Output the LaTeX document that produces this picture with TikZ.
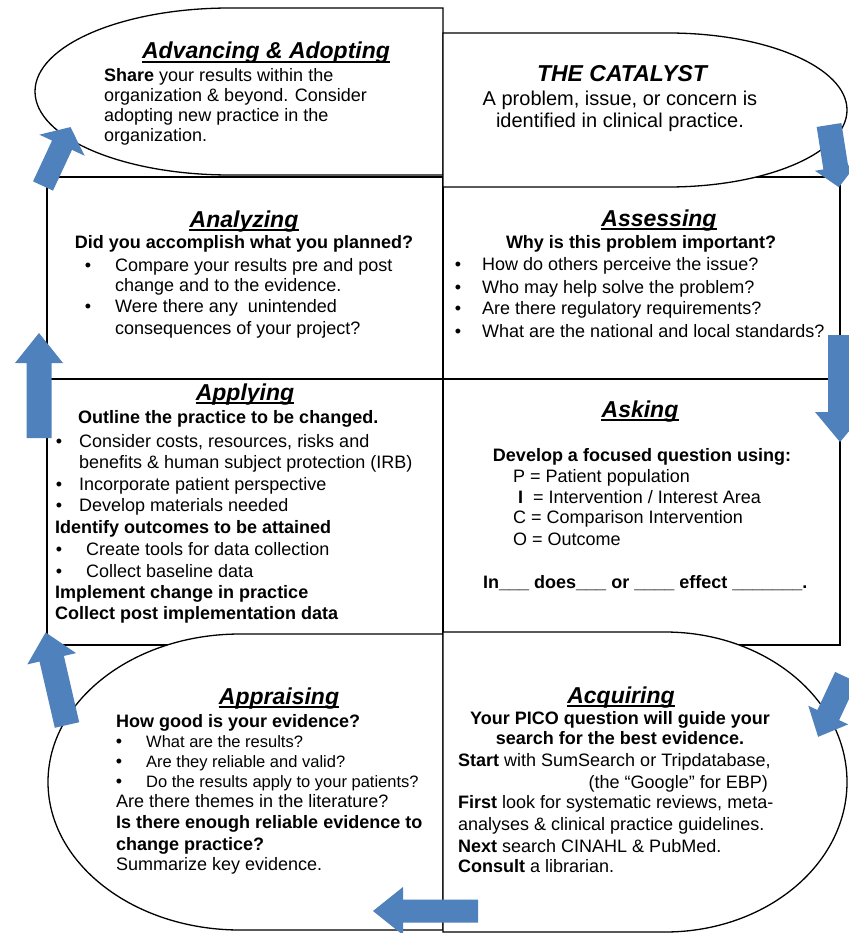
\documentclass[tikz,border=0pt]{standalone}
\usepackage{fontspec}
\setmainfont{Liberation Sans}
\definecolor{arrowblue}{RGB}{79,129,189}
\tikzset{
  tb/.style={inner sep=0pt, anchor=base west, font=\fontsize{18}{21}\selectfont},
  tbb/.style={inner sep=0pt, anchor=base west, font=\fontsize{18}{21}\selectfont\bfseries},
  tbbc/.style={tbb, anchor=base},
  tsm/.style={inner sep=0pt, anchor=base west, font=\fontsize{16.5}{19}\selectfont},
  tcat/.style={inner sep=0pt, anchor=base, font=\fontsize{20}{22}\selectfont},
  ttl/.style={inner sep=0pt, anchor=base, font=\fontsize{23}{26}\selectfont\bfseries\itshape},
  bul/.style={inner sep=0pt, anchor=base, font=\fontsize{18}{21}\selectfont},
  gridbox/.style={draw=black, line width=2pt},
  lobe/.style={draw=black, fill=white, line width=1.3pt},
  ulline/.style={line width=1.8pt},
}
\newcommand\ulin[1]{\draw[ulline] ([yshift=-3pt]#1.base west) -- ([yshift=-3pt]#1.base east);}
\newcommand\barrow[7]{\fill[arrowblue, shift={(#1,#2)}, rotate=#3] (0,-#5) -- (#4-#7,-#5) -- (#4-#7,-#6) -- (#4,0) -- (#4-#7,#6) -- (#4-#7,#5) -- (0,#5) -- cycle;}
\begin{document}
\begin{tikzpicture}[x=1pt,y=-1pt]
\useasboundingbox (0,0) rectangle (848,933);
% grid boxes
\draw[gridbox] (47,177) rectangle (443,379);
\draw[gridbox] (443,177) rectangle (840,379);
\draw[gridbox] (47,379) rectangle (443,645);
\draw[gridbox] (443,379) rectangle (840,645);
% lobes
\draw[lobe] (443,8) -- (230,8) arc[start angle=90, end angle=270, x radius=195pt, y radius=83.5pt] -- (443,175) -- cycle;
\draw[lobe] (443,33) -- (668,33) arc[start angle=90, end angle=-90, x radius=179pt, y radius=77pt] -- (443,187) -- cycle;
\draw[lobe] (443,634) -- (240,634) arc[start angle=90, end angle=270, x radius=192pt, y radius=148pt] -- (443,930) -- cycle;
\draw[lobe] (443,632) -- (665,632) arc[start angle=90, end angle=-90, x radius=182pt, y radius=150pt] -- (443,932) -- cycle;

% Advancing & Adopting
\node[ttl] (t1) at (266,59) {Advancing \& Adopting};
\ulin{t1}
\node[tb] (a1) at (104,81.5) {\textbf{Share} your results within the};
\node[tb] (a2) at (104,101.5) {organization \& beyond. Consider};
\node[tb] (a3) at (104,121.5) {adopting new practice in the};
\node[tb] (a4) at (104,142) {organization.};

% The catalyst
\node[ttl] (t2) at (622,82) {THE CATALYST};
\node[tcat] (c1) at (620,106) {A problem, issue, or concern is};
\node[tcat] (c2) at (620,128) {identified in clinical practice.};

% Analyzing
\node[ttl] (t3) at (244,227) {Analyzing};
\ulin{t3}
\node[tbbc] (n1) at (244,248) {Did you accomplish what you planned?};
\node[bul] (nb1) at (88,271) {•};
\node[tb] (n2) at (115,271) {Compare your results pre and post};
\node[tb] (n3) at (115,291) {change and to the evidence.};
\node[bul] (nb2) at (88,312) {•};
\node[tb] (n4) at (115,312) {Were there any\ \ unintended};
\node[tb] (n5) at (115,334) {consequences of your project?};

% Assessing
\node[ttl] (t4) at (659,226) {Assessing};
\ulin{t4}
\node[tbbc] (s1) at (641,248) {Why is this problem important?};
\node[bul] (sb1) at (458,270) {•};
\node[tb] (s2) at (482,270) {How do others perceive the issue?};
\node[bul] (sb2) at (458,293) {•};
\node[tb] (s3) at (482,293) {Who may help solve the problem?};
\node[bul] (sb3) at (458,314) {•};
\node[tb] (s4) at (482,314) {Are there regulatory requirements?};
\node[bul] (sb4) at (458,337) {•};
\node[tb] (s5) at (482,337) {What are the national and local standards?};

% Applying
\node[ttl] (t5) at (245,400) {Applying};
\ulin{t5}
\node[tbb] (p1) at (78,423) {Outline the practice to be changed.};
\node[bul] (pb1) at (59,447) {•};
\node[tb] (p2) at (79,447) {Consider costs, resources, risks and};
\node[tb] (p3) at (79,468) {benefits \& human subject protection (IRB)};
\node[bul] (pb2) at (59,490) {•};
\node[tb] (p4) at (79,490) {Incorporate patient perspective};
\node[bul] (pb3) at (59,511) {•};
\node[tb] (p5) at (79,511) {Develop materials needed};
\node[tbb] (p6) at (55,533) {Identify outcomes to be attained};
\node[bul] (pb4) at (59,555) {•};
\node[tb] (p7) at (86,555) {Create tools for data collection};
\node[bul] (pb5) at (59,577) {•};
\node[tb] (p8) at (86,577) {Collect baseline data};
\node[tbb] (p9) at (55,598) {Implement change in practice};
\node[tbb] (p10) at (55,619) {Collect post implementation data};

% Asking
\node[ttl] (t6) at (640,417) {Asking};
\ulin{t6}
\node[tbbc] (k1) at (642,461) {Develop a focused question using:};
\node[tb] (k2) at (513,482) {P = Patient population};
\node[tb] (k3) at (518,503) {\textbf{I}\ \ = Intervention / Interest Area};
\node[tb] (k4) at (513,523) {C = Comparison Intervention};
\node[tb] (k5) at (513,545) {O = Outcome};
\node[tbb] (k6) at (483,588) {In\_\_\_ does\_\_\_ or \_\_\_\_ effect \_\_\_\_\_\_\_.};

% Appraising
\node[ttl] (t7) at (279,704) {Appraising};
\ulin{t7}
\node[tbb] (r1) at (116,727) {How good is your evidence?};
\node[bul] (rb1) at (119,747) {•};
\node[tsm] (r2) at (146,747) {What are the results?};
\node[bul] (rb2) at (119,767) {•};
\node[tsm] (r3) at (146,767) {Are they reliable and valid?};
\node[bul] (rb3) at (119,787) {•};
\node[tsm] (r4) at (146,787) {Do the results apply to your patients?};
\node[tb] (r5) at (116,807) {Are there themes in the literature?};
\node[tbb] (r6) at (116,828) {Is there enough reliable evidence to};
\node[tbb] (r7) at (116,850) {change practice?};
\node[tb] (r8) at (116,870) {Summarize key evidence.};

% Acquiring
\node[ttl] (t8) at (621,703) {Acquiring};
\ulin{t8}
\node[tbbc] (q1) at (620,724) {Your PICO question will guide your};
\node[tbbc] (q2) at (620,744) {search for the best evidence.};
\node[tb] (q3) at (458,766) {\textbf{Start} with SumSearch or Tripdatabase,};
\node[tb, anchor=base east] (q4) at (768,788) {(the “Google” for EBP)};
\node[tb] (q5) at (458,808) {\textbf{First} look for systematic reviews, meta-};
\node[tb] (q6) at (458,830) {analyses \& clinical practice guidelines.};
\node[tb] (q7) at (458,852) {\textbf{Next} search CINAHL \& PubMed.};
\node[tb] (q8) at (458,872) {\textbf{Consult} a librarian.};

% block arrows
\barrow{829}{125}{-81}{63}{12.5}{21}{20}
\barrow{840}{335}{-90}{107}{12}{25}{30}
\barrow{846}{677}{-115}{66}{12}{22}{24}
\barrow{478}{911}{180}{105}{11.5}{24}{30}
\barrow{67}{725}{103}{95}{12.5}{25}{27}
\barrow{39}{438}{90}{105}{12.5}{24}{30}
\barrow{43}{186}{65}{65}{11}{25}{20}
\end{tikzpicture}
\end{document}
